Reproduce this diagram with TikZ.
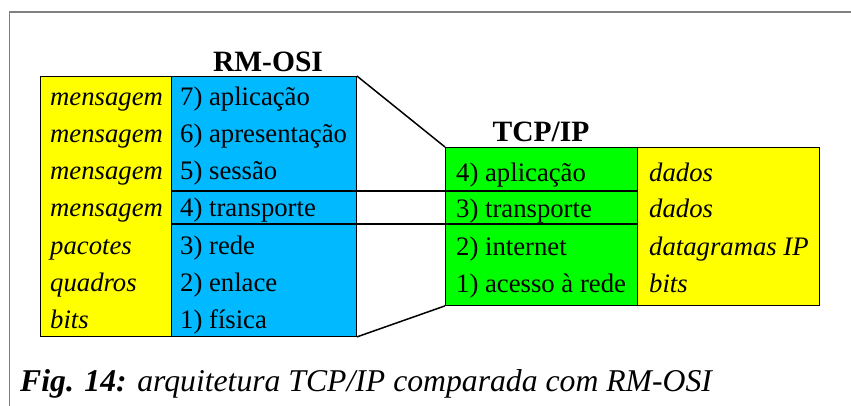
\documentclass[tikz,border=0pt]{standalone}
\usepackage{fontspec}
\setmainfont{Liberation Serif}
\definecolor{osiblue}{RGB}{0,185,255}
\definecolor{tcpgreen}{RGB}{0,255,0}
\definecolor{pduyellow}{RGB}{255,255,0}
\definecolor{framegray}{RGB}{128,128,128}
\tikzset{
  box/.style={draw=black, line width=0.9pt, anchor=north west, inner sep=0pt},
  lbl/.style={anchor=base west, inner sep=0pt, font=\fontsize{26.7}{30}\selectfont},
  ilbl/.style={lbl, font=\fontsize{26.7}{30}\selectfont\itshape},
  ttl/.style={anchor=base, inner sep=0pt, font=\fontsize{29.5}{33}\selectfont\bfseries},
  sep/.style={draw=black, line width=2pt},
  link/.style={draw=black, line width=1.5pt}
}
\begin{document}
\begin{tikzpicture}[x=1pt, y=-1pt]
\useasboundingbox (0,0) rectangle (851,406);
\draw[framegray, line width=1.5pt] (9.5,406) -- (9.5,12) -- (851,12);

% boxes
\node[box, fill=pduyellow, minimum width=131pt, minimum height=260pt] (ly) at (40,76) {};
\node[box, fill=osiblue, minimum width=185pt, minimum height=260pt] (osi) at (171,76) {};
\node[box, fill=tcpgreen, minimum width=192pt, minimum height=158pt] (tcp) at (445,147) {};
\node[box, fill=pduyellow, minimum width=182pt, minimum height=158pt] (ry) at (637,147) {};

% titles
\node[ttl] (tosi) at (268,72) {RM-OSI};
\node[ttl] (ttcp) at (541,142) {TCP/IP};

% separators
\coordinate (s1) at (0,191);
\coordinate (s2) at (0,224);
\draw[sep] (osi.west |- s1) -- (tcp.east |- s1);
\draw[sep] (osi.west |- s2) -- (tcp.east |- s2);

% links
\draw[link] (osi.north east) -- (tcp.north west);
\draw[link] (osi.south east) -- (tcp.south west);

% left PDU labels
\node[ilbl] (l7) at (50,106) {mensagem};
\node[ilbl] (l6) at (50,143) {mensagem};
\node[ilbl] (l5) at (50,180) {mensagem};
\node[ilbl] (l4) at (50,217) {mensagem};
\node[ilbl] (l3) at (50,254) {pacotes};
\node[ilbl] (l2) at (50,291) {quadros};
\node[ilbl] (l1) at (50,328) {bits};

% OSI layers
\node[lbl] (o7) at (180,106) {7) aplicação};
\node[lbl] (o6) at (180,143) {6) apresentação};
\node[lbl] (o5) at (180,180) {5) sessão};
\node[lbl] (o4) at (180,217) {4) transporte};
\node[lbl] (o3) at (180,254) {3) rede};
\node[lbl] (o2) at (180,291) {2) enlace};
\node[lbl] (o1) at (180,328) {1) física};

% TCP/IP layers
\node[lbl] (t4) at (456,182) {4) aplicação};
\node[lbl] (t3) at (456,218) {3) transporte};
\node[lbl] (t2) at (456,255) {2) internet};
\node[lbl] (t1) at (456,292) {1) acesso à rede};

% right PDU labels
\node[ilbl] (r4) at (649,182) {dados};
\node[ilbl] (r3) at (649,218) {dados};
\node[ilbl] (r2) at (649,255) {datagramas IP};
\node[ilbl] (r1) at (649,292) {bits};

% caption
\node[anchor=base west, inner sep=0pt, font=\fontsize{31.7}{35}\selectfont\itshape] (cap) at (20,391)
  {\textbf{Fig. 14:} arquitetura TCP/IP comparada com RM-OSI};
\end{tikzpicture}
\end{document}
